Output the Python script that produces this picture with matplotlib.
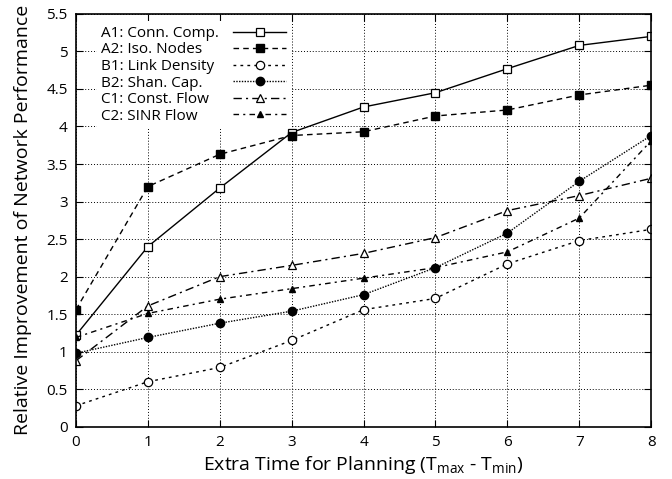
import matplotlib
matplotlib.use("Agg")
import matplotlib.pyplot as plt

plt.rcParams['font.family'] = ['Open Sans', 'DejaVu Sans']
plt.rcParams['mathtext.fontset'] = 'custom'
plt.rcParams['mathtext.rm'] = 'Open Sans'

x = [0, 1, 2, 3, 4, 5, 6, 7, 8]
a1 = [1.22, 2.40, 3.18, 3.92, 4.26, 4.45, 4.77, 5.08, 5.20]
a2 = [1.56, 3.20, 3.63, 3.88, 3.93, 4.14, 4.22, 4.42, 4.55]
b1 = [0.28, 0.60, 0.79, 1.15, 1.56, 1.71, 2.17, 2.48, 2.63]
b2 = [0.98, 1.19, 1.38, 1.54, 1.76, 2.12, 2.58, 3.27, 3.88]
c1 = [0.88, 1.61, 2.00, 2.15, 2.31, 2.52, 2.88, 3.08, 3.31]
c2 = [1.19, 1.51, 1.70, 1.84, 1.98, 2.12, 2.33, 2.78, 3.81]
labels = ['A1: Conn. Comp.', 'A2: Iso. Nodes', 'B1: Link Density',
          'B2: Shan. Cap.', 'C1: Const. Flow', 'C2: SINR Flow']

fig = plt.figure(figsize=(6.72, 4.79), dpi=100)
ax = fig.add_axes([0.113, 0.109, 0.856, 0.862])

ax.plot(x, a1, color='black', lw=1.0, ls='-', marker='s', mfc='white', mec='black', ms=6, mew=0.9, label=labels[0])
ax.plot(x, a2, color='black', lw=1.0, ls=(0, (4, 3)), marker='s', mfc='black', mec='black', ms=6, label=labels[1])
ax.plot(x, b1, color='black', lw=1.0, ls=(0, (2, 3)), marker='o', mfc='white', mec='black', ms=6, mew=0.9, label=labels[2])
ax.plot(x, b2, color='black', lw=1.0, ls=(0, (1, 1)), marker='o', mfc='black', mec='black', ms=6, label=labels[3])
ax.plot(x, c1, color='black', lw=1.0, ls=(0, (6, 3, 1.5, 3)), marker='^', mfc='white', mec='black', ms=6, mew=0.9, label=labels[4])
ax.plot(x, c2, color='black', lw=1.0, ls=(0, (4, 3, 1.5, 3)), marker='^', mfc='black', mec='black', ms=5, label=labels[5])

ax.set_xlim(0, 8)
ax.set_ylim(0, 5.5)
ax.set_xticks(range(0, 9))
ax.set_yticks([0, 0.5, 1, 1.5, 2, 2.5, 3, 3.5, 4, 4.5, 5, 5.5])
ax.set_yticklabels(['0', '0.5', '1', '1.5', '2', '2.5', '3', '3.5', '4', '4.5', '5', '5.5'])
ax.grid(True, color='black', ls=(0, (1, 2)), lw=0.7)
ax.tick_params(direction='in', top=True, right=True, length=5, labelsize=11, pad=6)
for s in ax.spines.values():
    s.set_linewidth(1.2)

ax.set_xlabel(r'Extra Time for Planning (T$_{\mathrm{max}}$ - T$_{\mathrm{min}}$)', fontsize=14, labelpad=3)
ax.set_ylabel('Relative Improvement of Network Performance', fontsize=14, labelpad=10)

handletextpad = 0.9
leg = ax.legend(loc='upper left', bbox_to_anchor=(0.028, 0.993), markerfirst=False,
                frameon=True, fontsize=11,
                handlelength=3.5, handletextpad=handletextpad, labelspacing=0.1,
                borderaxespad=0.3, borderpad=0.3, fancybox=False)
leg.get_frame().set_edgecolor('none')
leg.get_frame().set_facecolor('white')
leg.get_frame().set_alpha(1.0)

# left-align legend texts while keeping handles aligned on the right
fig.canvas.draw()
renderer = fig.canvas.get_renderer()
texts = leg.get_texts()
widths = [t.get_window_extent(renderer).width for t in texts]
maxw = max(widths)
base_sep = handletextpad * 11  # points
items = []
for col in leg._legend_handle_box.get_children():
    items.extend(col.get_children())
for item, w in zip(items, widths):
    item.sep = base_sep + (maxw - w) * 72.0 / fig.dpi

fig.savefig('out.png', dpi=100)
